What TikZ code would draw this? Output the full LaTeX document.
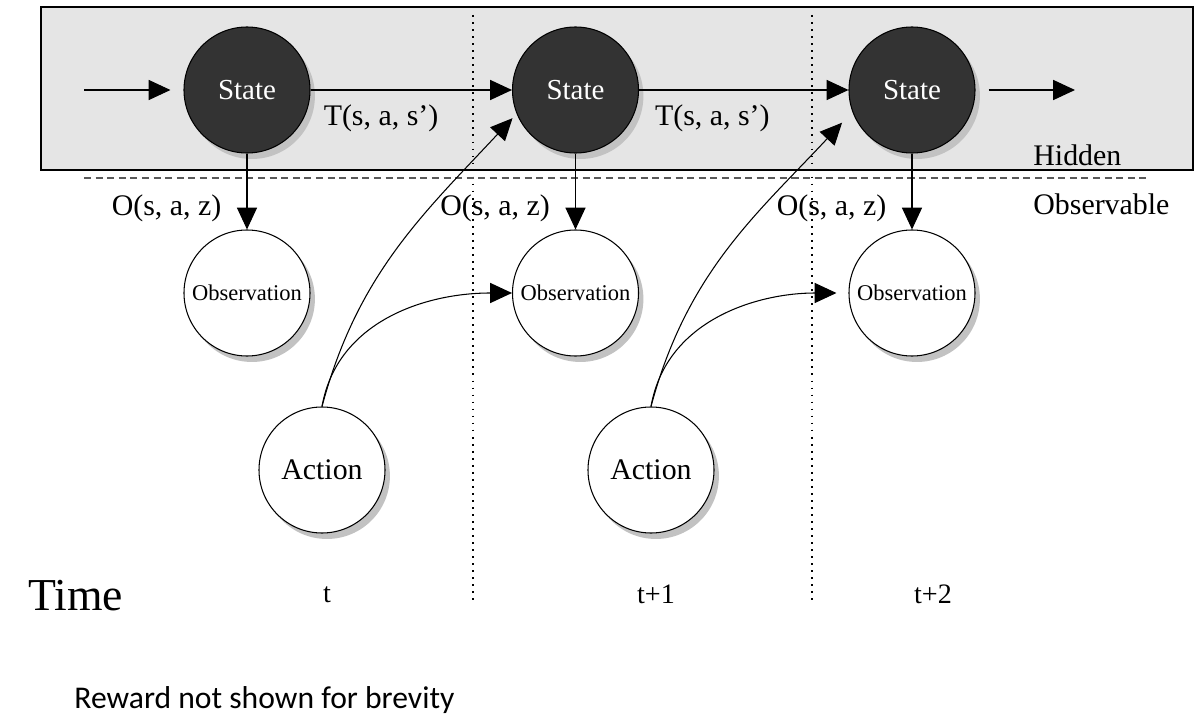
\documentclass[tikz,border=0pt]{standalone}
\usepackage{fontspec}
\setmainfont{Liberation Serif}
\newfontfamily\notefont{Carlito}
\usetikzlibrary{arrows.meta,shadows}

\tikzset{
	shade/.style={drop shadow={shadow xshift=2.8pt,shadow yshift=-3.4pt,fill=black!24,opacity=1}},
	hid/.style={draw,circle,fill=black!80,text=white,minimum size=2.52cm,inner sep=0pt,shade,font=\fontsize{16.5}{18}\selectfont},
	obs/.style={draw,circle,fill=white,minimum size=2.52cm,inner sep=0pt,shade,font=\fontsize{12.8}{14}\selectfont},
	act/.style={draw,circle,fill=white,minimum size=2.52cm,inner sep=0pt,shade,font=\fontsize{17}{19}\selectfont},
	arr/.style={-{Triangle[length=12.5pt,width=11.5pt]}},
	lbl/.style={font=\fontsize{17}{19}\selectfont},
	sep/.style={line width=0.85pt,dash pattern=on 1pt off 3pt}
}

\begin{document}
\begin{tikzpicture}[line width=0.6pt]
			\useasboundingbox (0,0) rectangle (23.92,14.42);
			
			% hidden part
			\draw [fill=black!10] (0.82,11.02) rectangle (23.86,14.28);
			\draw [sep] (9.46,14.12) -- (9.46,2.38);
			\draw [sep] (16.24,14.12) -- (16.24,2.38);
			\draw [black!65,dash pattern=on 4pt off 2.6pt] (1.68,10.86) -- (22.94,10.86);
			
			\node [hid] (S1) at (4.94,12.62) {State};
			\node [hid] (S2) at (11.51,12.62) {State};
			\node [hid] (S3) at (18.24,12.62) {State};
			\node [obs] (O1) at (4.94,8.56) {Observation};
			\node [obs] (O2) at (11.51,8.56) {Observation};
			\node [obs] (O3) at (18.24,8.56) {Observation};
			\node [act] (A1) at (6.44,5.02) {Action};
			\node [act] (A2) at (13.02,5.02) {Action};
			\coordinate (pre) at (1.68,12.62);
			\coordinate (post) at (21.5,12.62);
			
			\draw [arr] (pre) -- ([xshift=-0.26cm]S1.west);
			\draw [arr] (S1) -- (S2) node [lbl,below=5pt,pos=0.35] {T(s, a, s’)};
			\draw [arr] (S2) -- (S3) node [lbl,below=5pt,pos=0.35] {T(s, a, s’)};
			\draw [arr] ([xshift=0.26cm]S3.east) -- (post);
			\draw [arr] (S1) -- (O1) node [lbl,left=11pt,pos=0.72] {O(s, a, z)};
			\draw [arr] (S2) -- (O2) node [lbl,left=11pt,pos=0.72] {O(s, a, z)};
			\draw [arr] (S3) -- (O3) node [lbl,left=11pt,pos=0.72] {O(s, a, z)};
			
			\draw [arr,shorten >=0.12cm] (A1.north) to [out=75,in=227] (S2.202);
			\draw [arr] (A1.north) to [out=80,in=180] (O2.west);
			\draw [arr,shorten >=0.3cm] (A2.north) to [out=75,in=227] (S3.200);
			\draw [arr,shorten >=0.24cm] (A2.north) to [out=80,in=180] (O3.west);
			
			\node [lbl,anchor=base west] (hidden) at (20.54,11.1) {Hidden};
			\node [lbl,anchor=base west] (observable) at (20.54,10.12) {Observable};
			
			% time axis
			\node [anchor=base west,font=\fontsize{26}{28}\selectfont] (time) at (0.44,2.22) {Time};
			\node [anchor=base,font=\fontsize{16}{18}\selectfont] (t0) at (6.54,2.38) {t};
			\node [anchor=base,font=\fontsize{16}{18}\selectfont] (t1) at (13.12,2.36) {t+1};
			\node [anchor=base,font=\fontsize{16}{18}\selectfont] (t2) at (18.66,2.36) {t+2};
			
			\node [anchor=base west,font=\notefont\fontsize{18}{20}\selectfont] (note) at (1.36,0.26) {Reward not shown for brevity};
		\end{tikzpicture}
\end{document}
